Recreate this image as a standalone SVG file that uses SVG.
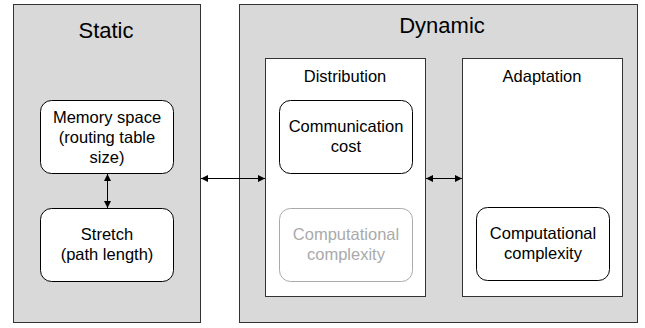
<svg xmlns="http://www.w3.org/2000/svg" width="645" height="328" viewBox="0 0 645 328">
<style>
text{font-family:"Liberation Sans",Arial,sans-serif;fill:#000;text-anchor:middle}
.big{font-size:22px}
.t{font-size:16.5px}
.panel{fill:#d9d9d9;stroke:#333;stroke-width:1}
.sub{fill:#fff;stroke:#333;stroke-width:1}
.node{fill:#fff;stroke:#000;stroke-width:1}
.faded{fill:#fff;stroke:#aaa;stroke-width:1}
.ft{fill:#aaa}
.conn{stroke:#000;stroke-width:1;fill:none}
</style>
<defs>
<marker id="ah" viewBox="0 0 10 10" refX="10" refY="5" markerWidth="10" markerHeight="7" markerUnits="userSpaceOnUse" orient="auto-start-reverse">
<path d="M0,0L10,5L0,10z" fill="#000"/>
</marker>
</defs>
<g id="static">
<rect class="panel" x="13.5" y="4.5" width="187" height="318"/>
<text class="big" x="106" y="38">Static</text>
</g>
<g id="dynamic">
<rect class="panel" x="239.5" y="4.5" width="398" height="318"/>
<text class="big" x="442" y="33">Dynamic</text>
</g>
<g id="distribution">
<rect class="sub" x="265.5" y="58.5" width="160" height="238"/>
<text class="t" x="345" y="82">Distribution</text>
</g>
<g id="adaptation">
<rect class="sub" x="462.5" y="58.5" width="160" height="238"/>
<text class="t" x="542" y="82">Adaptation</text>
</g>
<g id="memory">
<rect class="node" x="40.5" y="100.5" width="133" height="73" rx="11"/>
<text class="t" x="107" y="123">Memory space</text>
<text class="t" x="107" y="143">(routing table</text>
<text class="t" x="107" y="163">size)</text>
</g>
<g id="stretch">
<rect class="node" x="40.5" y="208.5" width="133" height="73" rx="11"/>
<text class="t" x="107" y="240">Stretch</text>
<text class="t" x="107" y="260">(path length)</text>
</g>
<g id="comm">
<rect class="node" x="279.5" y="100.5" width="133" height="73" rx="11"/>
<text class="t" x="346" y="132">Communication</text>
<text class="t" x="346" y="152">cost</text>
</g>
<g id="comp-dist">
<rect class="faded" x="279.5" y="208.5" width="133" height="73" rx="11"/>
<text class="t ft" x="346" y="240">Computational</text>
<text class="t ft" x="346" y="260">complexity</text>
</g>
<g id="comp-adapt">
<rect class="node" x="476.5" y="207.5" width="133" height="73" rx="11"/>
<text class="t" x="543" y="239">Computational</text>
<text class="t" x="543" y="259">complexity</text>
</g>
<g id="connectors">
<line class="conn" x1="107.5" y1="174" x2="107.5" y2="208" marker-start="url(#ah)" marker-end="url(#ah)"/>
<line class="conn" x1="201" y1="178.5" x2="265" y2="178.5" marker-start="url(#ah)" marker-end="url(#ah)"/>
<line class="conn" x1="426" y1="178.5" x2="462" y2="178.5" marker-start="url(#ah)" marker-end="url(#ah)"/>
</g>
</svg>
